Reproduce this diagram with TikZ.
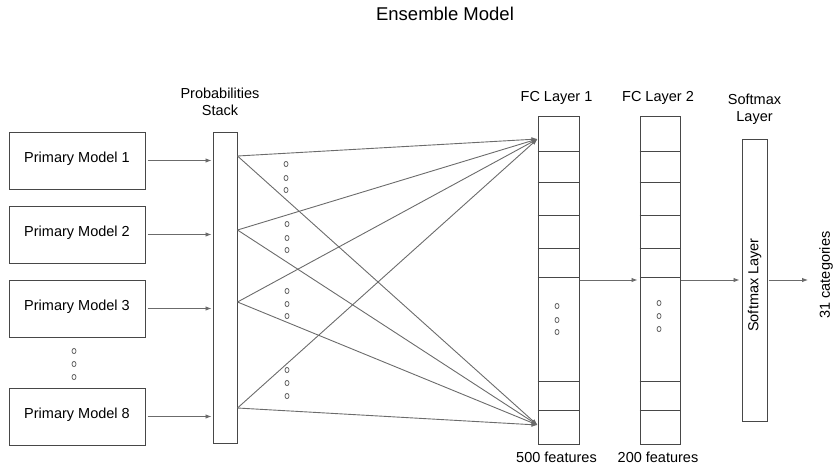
\documentclass[tikz,border=0pt]{standalone}
\usepackage{fontspec}
\setmainfont{Liberation Sans}
\usetikzlibrary{arrows.meta,positioning}

\tikzset{
    every node/.style={font=\fontsize{14.5}{17}\selectfont, inner sep=0pt},
    box/.style={draw=black!72, line width=1pt},
    model/.style={box, minimum width=136pt, minimum height=57pt, text depth=6pt},
    layer/.style={box, minimum width=41pt, minimum height=328pt},
    cell/.style={draw=black!72, line width=0.9pt},
    link/.style={draw=black!58, line width=0.9pt, -{Latex[length=6pt,width=4.5pt]}},
    dotmark/.style={draw=black!60, line width=0.8pt},
}

\begin{document}
\begin{tikzpicture}[x=1pt, y=-1pt]
    \useasboundingbox (0,0) rectangle (837,475);

    \node[font=\fontsize{18.5}{22}\selectfont] (title) at (445,14) {Ensemble Model};

    % primary models
    \node[model] (m1) at (77,160.5) {Primary Model 1};
    \node[model, below=16pt of m1] (m2) {Primary Model 2};
    \node[model, below=16pt of m2] (m3) {Primary Model 3};
    \node[model, below=50pt of m3] (m8) {Primary Model 8};

    % stack and layers
    \node[box, minimum width=24pt, minimum height=311pt] (stack) at (225,287.5) {};
    \node[layer] (fc1) at (558.5,280) {};
    \node[layer, minimum width=40pt] (fc2) at (660,280) {};
    \node[box, minimum width=25pt, minimum height=282pt] (soft) at (754.5,280) {};
    \node[rotate=90] (softtext) at (754.5,285) {Softmax Layer};

    \foreach \n in {fc1,fc2}
        \foreach \y in {151,182,215,248,277,381,410}
            \draw[cell] (\n.west |- 0,\y) -- (\n.east |- 0,\y);

    % labels
    \node[above=16pt of stack, xshift=-5pt, align=center] (stacklabel) {Probabilities\\Stack};
    \node[above=11pt of fc1, xshift=-2pt] (fc1label) {FC Layer 1};
    \node[above=11pt of fc2, xshift=-2pt] (fc2label) {FC Layer 2};
    \node[above=14pt of soft, align=center] (softlabel) {Softmax\\Layer};
    \node[below=7pt of fc1, xshift=-2pt] (fc1size) {500 features};
    \node[below=7pt of fc2, xshift=-2pt] (fc2size) {200 features};

    % connectors
    \foreach \m in {m1,m2,m3,m8}
        \draw[link, shorten <=2pt, shorten >=1pt] (\m) -- (\m -| stack.west);

    \coordinate (s1) at (stack.east |- 0,156);
    \coordinate (s2) at (stack.east |- 0,230);
    \coordinate (s3) at (stack.east |- 0,302);
    \coordinate (s4) at (stack.east |- 0,408);
    \coordinate (t1) at (fc1.west |- 0,139);
    \coordinate (t2) at (fc1.west |- 0,425);
    \foreach \s in {s1,s2,s3,s4} {
        \draw[link] (\s) -- (t1);
        \draw[link] (\s) -- (t2);
    }

    \draw[link, shorten >=2pt] (fc1) -- (fc2);
    \draw[link, shorten >=2pt] (fc2) -- (soft);
    \coordinate (out) at (808,280);
    \draw[link, shorten <=1pt] (soft) -- (out);
    \node[rotate=90] (cat) at (826,275) {31 categories};

    % dots
    \foreach \x/\y in {74/351, 74/364, 74/377,
                       286/164, 286/178, 286/190, 287/224, 287/238, 287/250,
                       287/291, 287/304, 287/316, 287/370, 287/383, 287/396,
                       557/306, 557/320, 557/332, 659/303, 659/316, 659/329}
        \draw[dotmark] (\x,\y) ellipse [x radius=2pt, y radius=2.6pt];
\end{tikzpicture}
\end{document}
